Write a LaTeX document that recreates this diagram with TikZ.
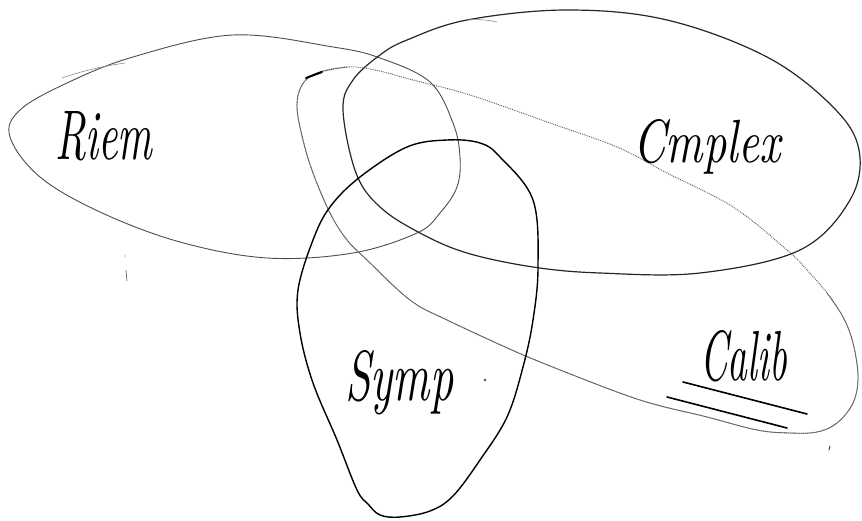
\documentclass[tikz,border=0pt]{standalone}
\usepackage{graphicx}
\begin{document}
\begin{tikzpicture}[x=1pt,y=-1pt,
  riemline/.style={draw=black!70, line width=0.9pt, line join=round},
  cplxline/.style={draw=black!85, line width=1.2pt, line join=round},
  sympline/.style={draw=black, line width=1.4pt, line join=round},
  calibline/.style={draw=black!60, line width=0.8pt, line join=round},
  calibdots/.style={draw=black!65, line width=0.9pt, densely dotted},
  faint/.style={draw=black!45, line width=0.6pt, line cap=round},
  hand/.style={inner sep=0pt, anchor=base west, font=\itshape}]
\useasboundingbox (0,0) rectangle (862,521);

% Riem
\draw[riemline] plot[smooth cycle, tension=0.6] coordinates {
 (10,137) (20,110) (67,83) (133,57) (233,35) (333,47) (380,58) (430,82)
 (453,123) (460,157) (457,187) (440,213) (417,233) (353,253) (267,258)
 (180,242) (100,212) (40,177)};
\draw[faint] (62,78) .. controls (85,70) and (105,66) .. (125,63);

% Cmplex
\draw[cplxline] plot[smooth cycle, tension=0.6] coordinates {
 (343,110) (353,80) (380,55) (407,40) (467,20) (567,10) (667,20) (767,57)
 (833,107) (859,150) (850,200) (800,250) (700,273) (600,273) (533,267)
 (467,253) (420,233) (380,207) (356,173)};
\draw[faint] (467,20) .. controls (478,19) and (488,20) .. (497,22);

% Calib
\draw[calibdots] plot[smooth cycle, tension=0.6] coordinates {
 (317,73) (347,67) (375,70) (413,80) (470,95) (550,123) (617,147) (667,173)
 (733,207) (787,250) (807,270) (827,293) (843,317) (853,343) (858,377)
 (853,403) (837,423) (817,432) (790,433) (757,430) (707,417) (640,400)
 (560,370) (523,355) (447,320) (410,300) (367,260) (347,240) (330,213)
 (313,173) (303,140) (297,107) (302,85)};
\draw[calibline] plot[smooth, tension=0.6] coordinates {
 (827,293) (843,317) (853,343) (858,377)
 (853,403) (837,423) (817,432) (790,433) (757,430) (707,417) (640,400)
 (560,370) (523,355) (447,320) (410,300) (367,260) (347,240) (330,213)
 (313,173) (303,140) (297,107) (302,85) (317,73) (347,67)};
\draw[black, line width=2pt, line cap=round] (306,78) -- (322,72);

% Symp
\draw[sympline] plot[smooth cycle, tension=0.6] coordinates {
 (447,140) (480,143) (500,157) (533,200) (538,267) (533,320) (523,367)
 (507,417) (480,460) (453,496) (430,511) (400,517) (380,515) (368,504)
 (357,490) (337,440) (313,383) (300,333) (298,290) (313,240) (330,207)
 (360,177) (407,147)};

% labels
\node[hand] (riem) at (55,160) {\resizebox{97pt}{48pt}{Riem}};
\node[hand] (cmplx) at (633,163) {\resizebox{147pt}{43pt}{Cmplex}};
\node[hand] (symp) at (345,400) {\resizebox{108pt}{50pt}{Symp}};
\node[hand] (calib) at (700,380) {\resizebox{87pt}{50pt}{Calib}};
\coordinate (u1a) at (683,382); \coordinate (u1b) at (807,414);
\coordinate (u2a) at (667,397); \coordinate (u2b) at (787,428);
\draw[black, line width=1.6pt, line cap=round] (u1a) -- (u1b);
\draw[black, line width=1.6pt, line cap=round] (u2a) -- (u2b);

% stray marks
\fill[black!70] (485,380) circle (1.3pt);
\fill[black!60] (125,256) circle (0.7pt);
\draw[black!60, line width=0.7pt] (126,270) -- (127,281);
\draw[black!70, line width=1pt, line cap=round] (830,446) -- (829,450);
\end{tikzpicture}
\end{document}
